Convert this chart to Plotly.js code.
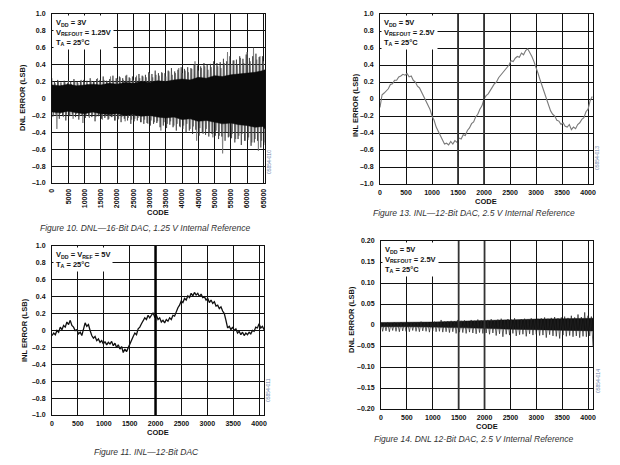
<!DOCTYPE html>
<html><head><meta charset="utf-8">
<script src="https://cdn.plot.ly/plotly-3.0.1.min.js"></script>
<style>html,body{margin:0;padding:0;background:#fff}#chart{width:620px;height:465px}</style>
</head><body><div id="chart"></div>
<script>
// ---------- DATA ----------
// Figure 10: DNL 16-bit DAC (dense band envelope + spikes)
const dnl16BandCodes = [0,2500,5000,7500,10000,12500,15000,17500,20000,22500,25000,27500,30000,32500,35000,37500,40000,42500,45000,47500,50000,52500,55000,57500,60000,62500,65000,65535];
const dnl16BandUpper = [0.16,0.15,0.17,0.15,0.16,0.17,0.16,0.18,0.17,0.19,0.18,0.2,0.19,0.21,0.2,0.22,0.23,0.22,0.25,0.24,0.27,0.26,0.28,0.29,0.3,0.31,0.33,0.34];
const dnl16BandLower = [-0.16,-0.17,-0.15,-0.17,-0.18,-0.16,-0.18,-0.19,-0.18,-0.2,-0.19,-0.21,-0.2,-0.22,-0.23,-0.22,-0.25,-0.24,-0.27,-0.26,-0.28,-0.3,-0.29,-0.31,-0.32,-0.34,-0.33,-0.36];
const dnl16SpikesA = [
 0.24,-0.2,0.18,-0.36,0.2,-0.18,0.16,-0.22,0.19,-0.19,0.21,-0.2,0.17,-0.24,0.2,-0.18,0.18,-0.21,0.22,-0.29,
 0.19,-0.2,0.17,-0.23,0.21,-0.19,0.2,-0.22,0.24,-0.2,0.19,-0.25,0.22,-0.21,0.2,-0.24,0.26,-0.22,0.21,-0.26,
 0.23,-0.24,0.25,-0.22,0.22,-0.27,0.28,-0.23,0.24,-0.25,0.22,-0.24,0.27,-0.23,0.24,-0.28,0.26,-0.25,0.25,-0.3,
 0.3,-0.26,0.25,-0.28,0.28,-0.27,0.27,-0.38,0.3,-0.28,0.26,-0.3,0.32,-0.27,0.28,-0.32,0.3,-0.3,0.36,-0.34,
 0.3,-0.32,0.33,-0.3,0.31,-0.36,0.35,-0.33,0.44,-0.5,0.33,-0.35,0.36,-0.42,0.38,-0.36,0.34,-0.4,0.37,-0.46,
 0.4,-0.38,0.38,-0.44,0.36,-0.65,0.42,-0.4,0.55,-0.45,0.4,-0.42,0.45,-0.48,0.4,-0.44,0.48,-0.42,0.42,-0.5,
 0.55,-0.46,0.44,-0.52,0.6,-0.48,0.46,-0.62,0.5,-0.5,0.44,-0.55];
const dnl16SpikesB = [
 -0.22,0.2,-0.19,0.22,-0.24,0.19,-0.2,0.21,-0.26,0.18,-0.21,0.2,-0.19,0.23,-0.22,0.2,-0.25,0.21,-0.2,0.22,
 -0.23,0.21,-0.21,0.24,-0.22,0.2,-0.27,0.23,-0.21,0.22,-0.24,0.26,-0.23,0.21,-0.25,0.23,-0.22,0.27,-0.26,0.24,
 -0.25,0.26,-0.28,0.24,-0.24,0.27,-0.26,0.25,-0.3,0.26,-0.27,0.25,-0.26,0.29,-0.28,0.27,-0.3,0.28,-0.29,0.31,
 -0.32,0.29,-0.3,0.33,-0.29,0.3,-0.34,0.31,-0.32,0.3,-0.35,0.33,-0.31,0.36,-0.34,0.32,-0.38,0.34,-0.33,0.37,
 -0.36,0.35,-0.4,0.37,-0.38,0.36,-0.42,0.4,-0.37,0.39,-0.44,0.38,-0.4,0.42,-0.43,0.4,-0.45,0.41,-0.42,0.44,
 -0.44,0.42,-0.48,0.43,-0.45,0.47,-0.5,0.44,-0.46,0.5,-0.47,0.45,-0.52,0.46,-0.48,0.5,-0.55,0.47,-0.5,0.52,
 -0.49,0.48,-0.56,0.5,-0.52,0.53,-0.5,0.49,-0.58,0.5,-0.52];

// Figure 13: INL 12-bit DAC, 2.5 V ref (every 40 codes)
const inl25 = [
 -0.1,0.05,0.07,0.1,0.12,0.17,0.18,0.22,0.22,0.26,0.27,0.29,0.28,0.3,0.26,0.27,0.22,0.2,0.15,0.13,
 0.08,0.05,-0.02,-0.05,-0.12,-0.2,-0.25,-0.33,-0.38,-0.45,-0.48,-0.53,-0.52,-0.54,-0.5,-0.53,-0.49,-0.51,-0.46,-0.47,
 -0.42,-0.43,-0.37,-0.34,-0.29,-0.27,-0.21,-0.18,-0.12,-0.08,0.0,0.04,0.06,0.11,0.14,0.18,0.2,0.25,0.28,0.32,
 0.35,0.38,0.4,0.45,0.44,0.48,0.5,0.49,0.54,0.52,0.57,0.59,0.55,0.5,0.44,0.38,0.3,0.22,0.15,0.08,
 0.0,-0.08,-0.14,-0.18,-0.2,-0.25,-0.26,-0.3,-0.28,-0.32,-0.33,-0.3,-0.36,-0.33,-0.35,-0.3,-0.28,-0.24,-0.22,-0.15,
 -0.12,-0.02,0.03];

// Figure 11: INL 12-bit DAC, VDD = VREF = 5 V (every 32 codes)
const inl5 = [
 -0.06,-0.03,-0.05,0.0,-0.02,0.04,0.01,0.06,0.04,0.1,0.07,0.12,0.06,0.04,0.0,0.01,-0.04,-0.02,-0.06,0.02,
 0.09,0.05,0.07,0.0,-0.06,-0.09,-0.07,-0.12,-0.1,-0.14,-0.12,-0.16,-0.13,-0.17,-0.14,-0.16,-0.13,-0.18,-0.15,-0.2,
 -0.17,-0.22,-0.19,-0.26,-0.22,-0.25,-0.2,-0.15,-0.1,-0.07,-0.03,-0.05,0.02,0.04,0.08,0.12,0.15,0.13,0.18,0.15,
 0.19,0.21,0.16,0.18,0.13,0.15,0.1,0.12,0.09,0.13,0.11,0.15,0.13,0.18,0.17,0.23,0.27,0.3,0.35,0.33,
 0.38,0.36,0.41,0.39,0.44,0.41,0.45,0.42,0.44,0.4,0.43,0.39,0.4,0.36,0.38,0.33,0.36,0.32,0.34,0.29,
 0.3,0.26,0.28,0.23,0.2,0.12,0.03,0.05,0.01,0.04,0.0,0.02,-0.03,-0.01,-0.05,-0.02,-0.06,-0.03,-0.05,-0.02,
 -0.04,0.0,-0.01,0.04,0.03,0.08,0.03,0.05,0.01];

// Figure 14: DNL 12-bit DAC, 2.5 V ref
const dnl12BandCodes = [0,500,1000,1500,2000,2500,3000,3500,4095];
const dnl12BandUpper = [0.006,0.006,0.007,0.009,0.011,0.012,0.014,0.015,0.016];
const dnl12BandLower = [-0.004,-0.004,-0.005,-0.006,-0.008,-0.01,-0.011,-0.013,-0.014];
const dnl12Spikes = [
 0.006,-0.015,0.005,-0.014,0.006,-0.016,0.004,-0.013,0.006,-0.015,0.005,-0.016,0.007,-0.014,0.005,-0.015,0.006,-0.016,0.006,-0.013,0.007,-0.015,0.005,-0.016,0.008,-0.014,0.006,-0.015,0.007,-0.017,0.006,-0.014,
 0.008,-0.016,0.007,-0.015,0.012,-0.017,0.008,-0.016,0.009,-0.018,0.01,-0.016,0.009,-0.02,0.012,-0.017,0.01,-0.018,0.011,-0.02,0.009,-0.017,0.012,-0.019,0.01,-0.021,0.013,-0.018,0.011,-0.02,0.012,-0.019,
 0.012,-0.022,0.014,-0.019,0.011,-0.025,0.013,-0.021,0.015,-0.028,0.012,-0.022,0.014,-0.024,0.013,-0.02,0.016,-0.026,0.012,-0.023,0.014,-0.022,0.015,-0.027,0.013,-0.021,0.016,-0.024,0.014,-0.022,0.015,-0.025,
 0.016,-0.024,0.018,-0.03,0.015,-0.023,0.017,-0.026,0.019,-0.027,0.016,-0.032,0.018,-0.024,0.02,-0.027,0.017,-0.025,0.022,-0.028,0.018,-0.026,0.025,-0.03,0.019,-0.027,0.03,-0.028,0.022,-0.026,0.02,-0.052];

// Tick labels
const codeTicks16 = [0,5000,10000,15000,20000,25000,30000,35000,40000,45000,50000,55000,60000,65000];
const codeTicks12 = [0,500,1000,1500,2000,2500,3000,3500,4000];
const lsbTicks = [-1,-0.8,-0.6,-0.4,-0.2,0,0.2,0.4,0.6,0.8,1];
const lsbTickText = ["–1.0","–0.8","–0.6","–0.4","–0.2","0","0.2","0.4","0.6","0.8","1.0"];
const dnl12Ticks = [-0.2,-0.15,-0.1,-0.05,0,0.05,0.1,0.15,0.2];
const dnl12TickText = ["–0.20","–0.15","–0.10","–0.05","0","0.05","0.10","0.15","0.20"];

// ---------- LAYOUT ----------
const W=620,H=465;
const fx=p=>p/W, fy=p=>1-p/H;
const FONT="Liberation Sans, Arial, sans-serif";
const tickFont={family:FONT,size:7,color:"#111",weight:"bold"};

function xa(d,range,ticks,anchor,angle){
  return {domain:[fx(d[0]),fx(d[1])],range:range,anchor:anchor,tickmode:"array",tickvals:ticks,ticktext:ticks.map(String),
    tickangle:angle,showgrid:true,gridcolor:"#111",gridwidth:1,showline:true,mirror:true,linecolor:"#111",linewidth:1,
    zeroline:false,ticks:"",tickfont:tickFont,ticklabelstandoff:2,fixedrange:true};
}
function ya(d,range,ticks,text,anchor){
  return {domain:[fy(d[1]),fy(d[0])],range:range,anchor:anchor,tickmode:"array",tickvals:ticks,ticktext:text,
    showgrid:true,gridcolor:"#111",gridwidth:1,showline:true,mirror:true,linecolor:"#111",linewidth:1,
    zeroline:false,ticks:"",tickfont:tickFont,ticklabelstandoff:4,fixedrange:true};
}

const poly=(xs,up,lo)=>({x:xs.concat(xs.slice().reverse()),y:up.concat(lo.slice().reverse())});
const b16=poly(dnl16BandCodes,dnl16BandUpper,dnl16BandLower);
const b12=poly(dnl12BandCodes,dnl12BandUpper,dnl12BandLower);

const data=[
  {type:"scatter",mode:"lines",x0:0,dx:500,y:dnl16SpikesA,xaxis:"x",yaxis:"y",line:{color:"#6a6a6a",width:0.7},hoverinfo:"skip"},
  {type:"scatter",mode:"lines",x0:250,dx:500,y:dnl16SpikesB,xaxis:"x",yaxis:"y",line:{color:"#333",width:0.7},hoverinfo:"skip"},
  {type:"scatter",mode:"lines",x:b16.x,y:b16.y,fill:"toself",fillcolor:"#0a0a0a",line:{width:0.5,color:"#0a0a0a"},xaxis:"x",yaxis:"y",hoverinfo:"skip"},
  {type:"scatter",mode:"lines",x0:0,dx:40,y:inl25,xaxis:"x2",yaxis:"y2",line:{color:"#7a7a7a",width:1.1},hoverinfo:"skip"},
  {type:"scatter",mode:"lines",x0:0,dx:32,y:inl5,xaxis:"x3",yaxis:"y3",line:{color:"#111",width:1.3},hoverinfo:"skip"},
  {type:"scatter",mode:"lines",x:b12.x,y:b12.y,fill:"toself",fillcolor:"#111",line:{width:0.5,color:"#111"},xaxis:"x4",yaxis:"y4",hoverinfo:"skip"},
  {type:"scatter",mode:"lines",x0:0,dx:32.25,y:dnl12Spikes,xaxis:"x4",yaxis:"y4",line:{color:"#222",width:0.7},hoverinfo:"skip"}
];

function cond(xp,yp,txt){
  return {xref:"paper",yref:"paper",x:fx(xp),y:fy(yp),xanchor:"left",yanchor:"top",align:"left",showarrow:false,
    text:txt,bgcolor:"#fff",borderpad:2,font:{family:FONT,size:7.5,color:"#111",weight:"bold"}};
}
function lab(xp,yp,txt,angle,size){
  return {xref:"paper",yref:"paper",x:fx(xp),y:fy(yp),xanchor:"center",yanchor:"middle",showarrow:false,text:txt,
    textangle:angle||0,font:{family:FONT,size:size||7.5,color:"#111",weight:"bold"}};
}
function cap(xp,yp,txt){
  return {xref:"paper",yref:"paper",x:fx(xp),y:fy(yp),xanchor:"center",yanchor:"middle",showarrow:false,text:txt,
    font:{family:"Liberation Sans Narrow, Liberation Sans, sans-serif",size:8.5,color:"#333",style:"italic"}};
}
function sid(xp,yp,txt){
  return {xref:"paper",yref:"paper",x:fx(xp),y:fy(yp),xanchor:"center",yanchor:"middle",showarrow:false,text:txt,
    textangle:-90,font:{family:FONT,size:5,color:"#6a7fa8"}};
}

const layout={
  width:W,height:H,margin:{l:0,r:0,t:0,b:0},paper_bgcolor:"#fff",plot_bgcolor:"#fff",showlegend:false,
  xaxis: xa([52,265],[0,65535],codeTicks16,"y",-90),
  yaxis: ya([14,183],[-1,1],lsbTicks,lsbTickText,"x"),
  xaxis2:xa([380,593],[0,4095],codeTicks12,"y2",0),
  yaxis2:ya([14,184],[-1,1],lsbTicks,lsbTickText,"x2"),
  xaxis3:xa([52,264],[0,4095],codeTicks12,"y3",0),
  yaxis3:ya([246,415],[-1,1],lsbTicks,lsbTickText,"x3"),
  xaxis4:xa([381,593],[0,4095],codeTicks12,"y4",0),
  yaxis4:ya([241,409],[-0.2,0.2],dnl12Ticks,dnl12TickText,"x4"),
  shapes:[
    {type:"line",xref:"x3",yref:"y3",x0:2000,x1:2000,y0:-1,y1:1,line:{color:"#000",width:2.5}},
    {type:"line",xref:"x2",yref:"y2",x0:1500,x1:1500,y0:-1,y1:1,line:{color:"#333",width:1.8}},
    {type:"line",xref:"x2",yref:"y2",x0:2000,x1:2000,y0:-1,y1:1,line:{color:"#333",width:1.8}},
    {type:"line",xref:"x4",yref:"y4",x0:1500,x1:1500,y0:-0.2,y1:0.2,line:{color:"#333",width:1.8}},
    {type:"line",xref:"x4",yref:"y4",x0:2000,x1:2000,y0:-0.2,y1:0.2,line:{color:"#333",width:1.8}}
  ],
  annotations:[
    cond(53,15,"V<sub>DD</sub> = 3V<br>V<sub>REFOUT</sub> = 1.25V<br>T<sub>A</sub> = 25°C"),
    cond(381,15,"V<sub>DD</sub> = 5V<br>V<sub>REFOUT</sub> = 2.5V<br>T<sub>A</sub> = 25°C"),
    cond(53,247,"V<sub>DD</sub> = V<sub>REF</sub> = 5V<br>T<sub>A</sub> = 25°C"),
    cond(382,242,"V<sub>DD</sub> = 5V<br>V<sub>REFOUT</sub> = 2.5V<br>T<sub>A</sub> = 25°C"),
    lab(23,98,"DNL ERROR (LSB)",-90),
    lab(355,105,"INL ERROR (LSB)",-90),
    lab(24,330,"INL ERROR (LSB)",-90),
    lab(351,320,"DNL ERROR (LSB)",-90),
    lab(158,212,"CODE"),
    lab(486,201,"CODE"),
    lab(158,432,"CODE"),
    lab(487,426,"CODE"),
    cap(145,228,"Figure 10. DNL—16-Bit DAC, 1.25 V Internal Reference"),
    cap(474,213,"Figure 13. INL—12-Bit DAC, 2.5 V Internal Reference"),
    cap(146,452,"Figure 11. INL—12-Bit DAC"),
    cap(473,439,"Figure 14. DNL 12-Bit DAC, 2.5 V Internal Reference"),
    sid(269,162,"05854-010"),
    sid(597,158,"05854-013"),
    sid(268,390,"05854-011"),
    sid(598,381,"05854-014")
  ]
};
Plotly.newPlot("chart",data,layout,{staticPlot:true,displayModeBar:false});
</script></body></html>
